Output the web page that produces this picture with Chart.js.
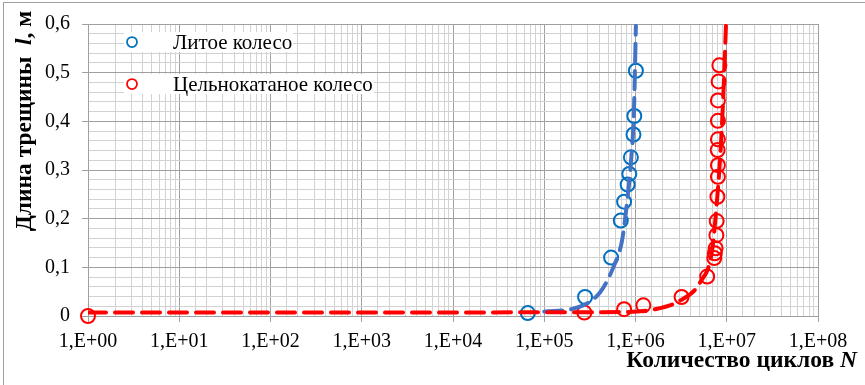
<!DOCTYPE html>
<html>
<head>
<meta charset="utf-8">
<script src="https://cdn.jsdelivr.net/npm/chart.js@4"></script>
<style>
  html, body { margin: 0; padding: 0; background: #fff; }
  canvas { display: block; }
</style>
</head>
<body>
<canvas id="crackChart" width="865" height="385"></canvas>
<script>
// Литое колесо (cast wheel) – measured points
const castN = [6.6e4, 2.8e5, 5.4e5, 6.9e5, 7.5e5, 8.2e5, 8.55e5, 8.9e5, 9.5e5, 9.7e5, 1.01e6];
const castL = [0.006, 0.039, 0.12, 0.196, 0.235, 0.27, 0.292, 0.326, 0.373, 0.411, 0.504];
// Цельнокатаное колесо (rolled wheel) – measured points
const rolledN = [1, 2.75e5, 7.5e5, 1.22e6, 3.2e6, 6.1e6, 7.3e6, 7.4e6, 7.55e6, 7.7e6, 7.76e6, 7.9e6, 8.0e6, 8.0e6, 7.95e6, 8.0e6, 8.0e6, 8.0e6, 8.15e6, 8.3e6];
const rolledL = [0, 0.007, 0.014, 0.022, 0.039, 0.081, 0.119, 0.129, 0.139, 0.166, 0.195, 0.245, 0.286, 0.31, 0.341, 0.363, 0.401, 0.443, 0.482, 0.515];
// trend curves
const castTrendN = [1e5, 2.17e5, 4.1e5, 5.8e5, 7.1e5, 8.1e5, 9.0e5, 9.6e5, 1.01e6];
const castTrendL = [0.009, 0.016, 0.049, 0.103, 0.154, 0.235, 0.326, 0.418, 0.596];
const rolledTrendN = [1, 6.8e5, 1.64e6, 3.1e6, 5.1e6, 6.9e6, 7.8e6, 8.4e6, 9.1e6, 9.8e6];
const rolledTrendL = [0.007, 0.008, 0.014, 0.032, 0.069, 0.134, 0.235, 0.316, 0.438, 0.596];

const seriesNames = ["Литое колесо", "Цельнокатаное колесо"];
const xTitle = [["Количество циклов ", "bold"], ["N", "italic bold"]];
const yTitle = [["Длина трещины  ", "bold"], ["l", "italic bold"], [", м", "bold"]];

const blueMark = "#0070C0", blueLine = "#4472C4", red = "#FF0000";
const majorGrid = "#a0a0a0", minorGrid = "#d2d2d2";
const serif = "'Liberation Serif', 'Times New Roman', serif";

const toXY = (xs, ys) => xs.map((x, i) => ({ x: x, y: ys[i] }));
const isDecade = v => Math.abs(Math.log10(v) - Math.round(Math.log10(v))) < 1e-6;
const isTenth = v => Math.abs(v * 10 - Math.round(v * 10)) < 1e-6;

function textWidth(ctx, parts, size) {
    let w = 0;
    parts.forEach(p => { ctx.font = `${p[1]} ${size}px ${serif}`; w += ctx.measureText(p[0]).width; });
    return w;
}

function drawParts(ctx, parts, size, x, y) {
    parts.forEach(p => {
        ctx.font = `${p[1]} ${size}px ${serif}`;
        ctx.fillText(p[0], x, y);
        x += ctx.measureText(p[0]).width;
    });
}

const decorPlugin = {
    id: "decor",
    afterDraw(chart) {
        const ctx = chart.ctx, area = chart.chartArea;
        ctx.save();
        // outer frame (only top and left edges fall inside the picture)
        ctx.strokeStyle = "#a0a0a0";
        ctx.lineWidth = 1;
        ctx.strokeRect(3.5, 2.5, 900, 420);

        // legend inside plot area
        const rows = [[seriesNames[0], blueMark], [seriesNames[1], red]];
        ctx.font = `21px ${serif}`;
        ctx.textBaseline = "middle";
        ctx.textAlign = "left";
        rows.forEach((r, i) => {
            const cy = area.top + 18 + i * 42;
            const tw = ctx.measureText(r[0]).width;
            ctx.fillStyle = "#fff";
            ctx.fillRect(area.left + 36, cy - 10, 50 + tw, 20);
            ctx.beginPath();
            ctx.arc(area.left + 44, cy, 5, 0, Math.PI * 2);
            ctx.strokeStyle = r[1];
            ctx.lineWidth = 1.75;
            ctx.stroke();
            ctx.fillStyle = "#000";
            ctx.fillText(r[0], area.left + 85, cy + 1);
        });

        // axis titles
        const size = 23.5;
        ctx.fillStyle = "#000";
        ctx.textBaseline = "alphabetic";
        drawParts(ctx, xTitle, size, 857 - textWidth(ctx, xTitle, size), 367);

        ctx.translate(31, 121);
        ctx.rotate(-Math.PI / 2);
        drawParts(ctx, yTitle, size, -textWidth(ctx, yTitle, size) / 2, 0);
        ctx.restore();
    }
};

const pointStyle = {
    showLine: false,
    pointRadius: 7,
    pointHoverRadius: 7,
    pointBorderWidth: 2,
    pointBackgroundColor: "transparent",
    clip: false,
    order: 2
};
const lineStyle = {
    showLine: true,
    pointRadius: 0,
    borderWidth: 4,
    borderDash: [18, 9],
    borderCapStyle: "round",
    cubicInterpolationMode: "monotone",
    fill: false,
    order: 1
};

new Chart(document.getElementById("crackChart").getContext("2d"), {
    type: "scatter",
    data: {
        datasets: [
            { ...lineStyle, label: seriesNames[1] + " trend", data: toXY(rolledTrendN, rolledTrendL), borderColor: red },
            { ...lineStyle, label: seriesNames[0] + " trend", data: toXY(castTrendN, castTrendL), borderColor: blueLine },
            { ...pointStyle, label: seriesNames[0], data: toXY(castN, castL), pointBorderColor: blueMark, borderColor: blueMark },
            { ...pointStyle, label: seriesNames[1], data: toXY(rolledN, rolledL), pointBorderColor: red, borderColor: red }
        ]
    },
    options: {
        responsive: false,
        animation: false,
        layout: { padding: { left: 45, right: 47, top: 20, bottom: 31 } },
        plugins: { legend: { display: false }, tooltip: { enabled: false } },
        scales: {
            x: {
                type: "logarithmic",
                min: 1,
                max: 1e8,
                afterFit: s => { s.height = 38; },
                border: { color: majorGrid },
                grid: {
                    color: c => (c.tick && isDecade(c.tick.value)) ? majorGrid : minorGrid,
                    tickColor: c => (c.tick && isDecade(c.tick.value)) ? majorGrid : "transparent",
                    tickLength: 6
                },
                ticks: {
                    autoSkip: false,
                    maxRotation: 0,
                    padding: 8,
                    color: "#000",
                    font: { family: serif, size: 20 },
                    callback: v => isDecade(v) ? "1,E+" + String(Math.round(Math.log10(v))).padStart(2, "0") : ""
                }
            },
            y: {
                min: 0,
                max: 0.6,
                afterFit: s => { s.width = 43; },
                border: { color: majorGrid },
                grid: {
                    color: c => (c.tick && isTenth(c.tick.value)) ? majorGrid : minorGrid,
                    tickColor: c => (c.tick && isTenth(c.tick.value)) ? majorGrid : "transparent",
                    tickLength: 6
                },
                ticks: {
                    stepSize: 0.02,
                    autoSkip: false,
                    padding: 12,
                    color: "#000",
                    font: { family: serif, size: 20 },
                    callback: v => isTenth(v) ? (Math.round(v * 10) / 10).toString().replace(".", ",") : ""
                }
            }
        }
    },
    plugins: [decorPlugin]
});
</script>
</body>
</html>
